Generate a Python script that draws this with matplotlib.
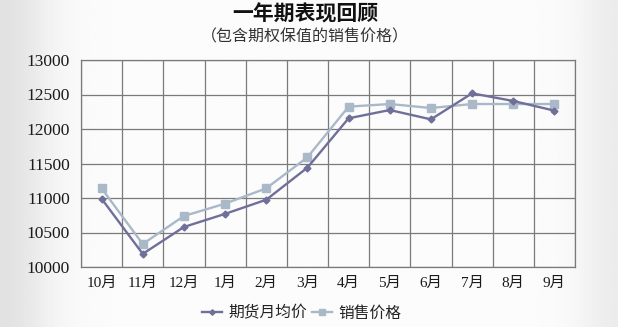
import matplotlib
matplotlib.use("Agg")
import matplotlib.pyplot as plt
import numpy as np

plt.rcParams['font.family'] = ['Noto Sans CJK SC', 'DejaVu Sans']

months = ['10月', '11月', '12月', '1月', '2月', '3月', '4月', '5月', '6月', '7月', '8月', '9月']
futures = [10990, 10190, 10580, 10770, 10975, 11440, 12155, 12275, 12140, 12517, 12406, 12266]
sales = [11140, 10333, 10739, 10918, 11140, 11590, 12324, 12362, 12304, 12362, 12362, 12362]
yticks = [10000, 10500, 11000, 11500, 12000, 12500, 13000]

fig = plt.figure(figsize=(6.18, 3.27), dpi=100)

# background gradient
bg = fig.add_axes([0, 0, 1, 1], zorder=-10)
xs = np.linspace(0, 1, 300)
row = 0.985 - 0.10 * np.exp(-((xs) / 0.08) ** 2) - 0.06 * np.exp(-((1 - xs) / 0.06) ** 2)
img = np.tile(row, (50, 1))
bg.imshow(img, cmap='gray', vmin=0, vmax=1, aspect='auto', extent=[0, 1, 0, 1])
bg.axis('off')

ax = fig.add_axes([81 / 618, 1 - 267 / 327, (575 - 81) / 618, (267 - 60) / 327])
ax.set_facecolor('none')
x = np.arange(len(months))
ax.plot(x, futures, color='#6f6f9a', lw=1.7, marker='D', ms=3.5, zorder=3, label='期货月均价')
ax.plot(x, sales, color='#aab9c8', lw=1.7, marker='s', ms=5.5, zorder=2, label='销售价格')

ax.set_xlim(-0.5, len(months) - 0.5)
ax.set_ylim(10000, 13000)
ax.set_yticks(yticks)
ax.set_yticklabels([str(v) for v in yticks], family=['Liberation Serif', 'Noto Sans CJK SC'], fontsize=12.5)
ax.set_xticks(x)
ax.set_xticklabels(months, family=['Liberation Serif', 'Noto Sans CJK SC'], fontsize=11)
ax.grid(False)
for v in np.arange(-0.5, len(months)):
    ax.axvline(v, color='#7a7a7a', lw=0.9, zorder=1)
for v in yticks:
    ax.axhline(v, color='#7a7a7a', lw=0.9, zorder=1)
for s in ax.spines.values():
    s.set_color('#7a7a7a')
    s.set_linewidth(0.9)
ax.tick_params(axis='both', length=0, colors='#1a1a1a', pad=8)
ax.tick_params(axis='x', pad=7)

fig.text(0.494, 0.958, '一年期表现回顾', ha='center', va='center', fontsize=15, fontweight='bold', color='#111111')
fig.text(0.494, 0.888, '（包含期权保值的销售价格）', ha='center', va='center', fontsize=11.5, color='#333333')

leg = fig.legend(loc='center', bbox_to_anchor=(0.488, 0.042), ncol=2, frameon=False,
                 fontsize=11.3, handlelength=1.3, columnspacing=0.3, handletextpad=0.4,
                 markerscale=0.8, labelcolor='#222222')

fig.savefig('out.png', dpi=100)
